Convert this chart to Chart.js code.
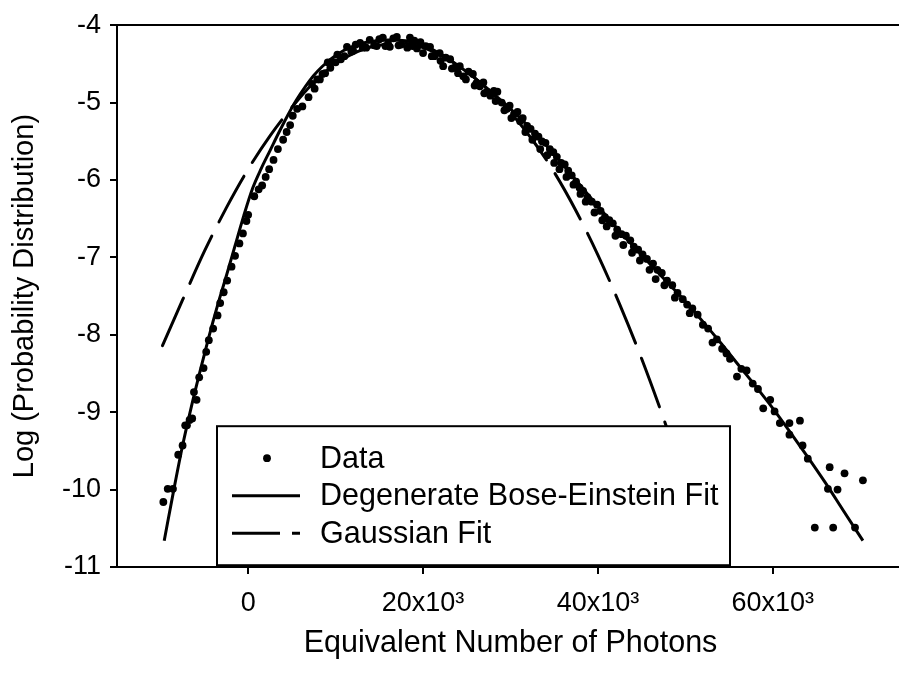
<!DOCTYPE html>
<html>
<head>
<meta charset="utf-8">
<title>Photon number distribution</title>
<script src="https://cdn.jsdelivr.net/npm/chart.js@4.4.0/dist/chart.umd.min.js"></script>
<style>
  html, body { margin: 0; padding: 0; background: #fff; overflow: hidden; }
  #wrap { width: 910px; height: 673px; }
</style>
</head>
<body>
<div id="wrap"><canvas id="photonChart" width="910" height="673"></canvas></div>
<script>
// photon numbers are kept in units of 10^3
const dataX = [
  -9.7, -9.2, -8.6, -8.0, -7.5, -7.2, -7.0, -6.7, -6.4, -6.2, -5.9, -5.6, -5.1, -4.8, -4.5, -4.0,
  -3.5, -3.2, -2.8, -2.4, -1.9, -1.5, -1.0, -0.6, -0.2, 0.0, 0.7, 1.2, 1.6, 2.0, 2.4, 2.9,
  3.4, 4.0, 4.4, 4.8, 5.1, 5.6, 6.2, 6.9, 7.3, 7.9, 8.5, 9.1, 9.6, 10.2, 10.6, 11.3,
  11.8, 12.3, 12.8, 13.1, 13.9, 14.4, 15.0, 15.4, 16.0, 16.2, 16.6, 17.0, 17.5, 18.2, 18.5, 19.0,
  19.7, 20.0, 20.3, 20.8, 21.3, 21.9, 22.3, 22.6, 23.1, 23.6, 24.2, 24.6, 25.2, 25.7, 26.1, 26.5,
  26.9, 27.3, 27.7, 28.1, 28.5, 29.0, 29.6, 29.9, 30.4, 30.8, 31.1, 31.4, 31.9, 32.3, 32.8, 33.2,
  33.6, 34.0, 34.5, 34.9, 35.3, 35.8, 36.2, 36.6, 37.0, 37.5, 37.9, 38.3, 38.8, 39.3, 39.9, 40.3,
  40.8, 41.3, 41.7, 42.2, 42.7, 43.2, 43.7, 44.1, 44.6, 45.1, 45.6, 46.3, 46.8, 47.3, 47.9, 48.5,
  49.1, 49.7, 50.2, 50.8, 51.4, 52.0, 52.6, 53.1, 53.6, 54.2, 54.7, 55.1, 55.9, 56.4, 57.0, 57.7,
  58.3, 58.9, 59.7, 60.2, 60.8, 61.9, 61.9, 63.1, 63.4, 64.0, 64.8, 66.3, 66.5, 66.9, 67.4, 68.2,
  69.4, 70.3,
  // lower edge of the band
  7.6, 8.2, 8.8, 9.4, 10.0, 11.0, 12.0, 13.5, 14.7, 15.7, 17.2, 18.8, 19.3, 21.0, 22.0, 23.3,
  24.0, 24.9, 25.9, 27.0, 28.3, 29.3, 30.1, 31.7, 32.5, 33.4, 34.2, 35.0, 35.6, 36.4, 37.2, 38.0,
  38.6, 39.6, 40.5, 41.0, 42.0, 42.9, 43.9, 44.8, 45.9, 46.6, 47.6, 48.8, 50.5
];
const dataY = [
  -10.16, -9.99, -9.99, -9.55, -9.43, -9.17, -9.17, -9.10, -9.08, -8.74, -8.84, -8.55, -8.43, -8.22, -8.07, -7.92,
  -7.75, -7.59, -7.45, -7.30, -7.12, -6.98, -6.82, -6.69, -6.53, -6.45, -6.21, -6.12, -6.07, -5.96, -5.86, -5.74,
  -5.60, -5.48, -5.38, -5.29, -5.17, -5.08, -5.05, -4.93, -4.76, -4.70, -4.63, -4.48, -4.47, -4.38, -4.44, -4.28,
  -4.34, -4.25, -4.23, -4.29, -4.19, -4.26, -4.18, -4.16, -4.24, -4.28, -4.17, -4.15, -4.25, -4.29, -4.16, -4.20,
  -4.22, -4.36, -4.27, -4.28, -4.40, -4.36, -4.53, -4.42, -4.44, -4.55, -4.53, -4.66, -4.60, -4.63, -4.75, -4.79,
  -4.74, -4.86, -4.91, -4.85, -4.86, -5.00, -5.08, -5.04, -5.15, -5.12, -5.24, -5.20, -5.30, -5.34, -5.40, -5.44,
  -5.50, -5.52, -5.60, -5.64, -5.70, -5.78, -5.80, -5.88, -5.94, -6.02, -6.10, -6.14, -6.22, -6.28, -6.32, -6.40,
  -6.48, -6.52, -6.56, -6.64, -6.70, -6.72, -6.78, -6.86, -6.90, -6.96, -7.02, -7.08, -7.16, -7.20, -7.30, -7.36,
  -7.46, -7.54, -7.61, -7.66, -7.74, -7.87, -7.92, -8.10, -8.06, -8.18, -8.24, -8.31, -8.54, -8.44, -8.46, -8.63,
  -8.70, -8.95, -8.84, -8.99, -9.14, -9.29, -9.14, -9.11, -9.43, -9.60, -10.49, -9.99, -9.71, -10.49, -10.00, -9.79,
  -10.49, -9.88,
  -4.82, -4.70, -4.62, -4.55, -4.48, -4.40, -4.33, -4.29, -4.27, -4.27, -4.26, -4.27, -4.30, -4.40, -4.46, -4.56,
  -4.62, -4.70, -4.78, -4.88, -4.98, -5.10, -5.20, -5.38, -5.48, -5.60, -5.68, -5.78, -5.86, -5.96, -6.06, -6.18,
  -6.28, -6.42, -6.52, -6.60, -6.72, -6.84, -6.94, -7.04, -7.16, -7.28, -7.36, -7.52, -7.72
];

// degenerate Bose-Einstein fit
const boseX = [
  -9.6, -8.5, -7.5, -6.5, -5.5, -4.5, -3.5, -2.5, -1.5, -0.5, 0.5, 1.5, 2.5, 3.5, 4.5, 5.5,
  6.5, 7.5, 8.5, 10, 12, 14, 16, 18, 20, 22, 24, 26, 28, 30, 32, 34,
  36, 38, 40, 42, 44, 46, 48, 50, 52, 54, 56, 58, 60, 62, 64, 66, 68, 70.3
];
const boseY = [
  -10.66, -10.00, -9.43, -8.93, -8.47, -8.03, -7.62, -7.24, -6.85, -6.46, -6.11, -5.85, -5.62, -5.39, -5.17, -4.97,
  -4.80, -4.65, -4.53, -4.39, -4.27, -4.21, -4.19, -4.20, -4.26, -4.37, -4.52, -4.69, -4.88, -5.08, -5.30, -5.54,
  -5.80, -6.07, -6.34, -6.60, -6.85, -7.09, -7.33, -7.57, -7.83, -8.10, -8.38, -8.66, -8.95, -9.26, -9.58, -9.91, -10.26, -10.66
];

// gaussian fit
const gaussX = [
  -9.8, -7.5, -5, -2.5, 0, 2.5, 5, 7.5, 10, 12.5, 15, 17.5, 20, 22.5, 25, 27.5,
  30, 32.5, 35, 37.5, 40, 42.5, 45, 47.5, 50
];
const gaussY = [
  -8.14, -7.55, -6.92, -6.36, -5.86, -5.43, -5.06, -4.74, -4.50, -4.34, -4.26, -4.23, -4.29, -4.42, -4.60, -4.84,
  -5.13, -5.48, -5.90, -6.40, -6.97, -7.61, -8.31, -9.08, -9.91
];

const xTickValues = [0, 20, 40, 60];
const xTickLabels = ['0', '20x10³', '40x10³', '60x10³'];
const yTickValues = [-4, -5, -6, -7, -8, -9, -10, -11];
const seriesNames = ['Data', 'Degenerate Bose-Einstein Fit', 'Gaussian Fit'];

const pairs = (xs, ys) => xs.map((x, i) => ({ x: x, y: ys[i] }));

const FONT = "'Liberation Sans', Arial, Helvetica, sans-serif";
Chart.defaults.font.family = FONT;
Chart.defaults.color = '#000';

// boxed legend sitting inside the plot, painted over the curves
const boxLegend = {
  id: 'boxLegend',
  afterDatasetsDraw(chart) {
    const { ctx, chartArea } = chart;
    const left = chartArea.left + 100;
    const top = chartArea.top + 401;
    const w = 513, h = 139;
    ctx.save();
    ctx.fillStyle = '#fff';
    ctx.fillRect(left, top, w, h);
    ctx.lineWidth = 2;
    ctx.strokeStyle = '#000';
    ctx.strokeRect(left, top, w, h);
    ctx.font = '30.5px ' + FONT;
    ctx.textBaseline = 'middle';
    ctx.fillStyle = '#000';
    chart.data.datasets.forEach((ds, i) => {
      const y = top + 32 + i * 37.5;
      const x0 = left + 15, x1 = left + 83;
      if (ds.showLine) {
        ctx.beginPath();
        ctx.lineWidth = ds.borderWidth;
        ctx.setLineDash(ds.borderDash.length ? [48, 12] : []);
        ctx.moveTo(x0, y);
        ctx.lineTo(x1, y);
        ctx.stroke();
        ctx.setLineDash([]);
      } else {
        ctx.beginPath();
        ctx.arc((x0 + x1) / 2 + 1, y, ds.pointRadius, 0, Math.PI * 2);
        ctx.fill();
      }
      ctx.fillText(ds.label, left + 103, y + 1);
    });
    ctx.restore();
  }
};

new Chart(document.getElementById('photonChart'), {
  type: 'scatter',
  data: {
    datasets: [
      {
        label: seriesNames[0],
        data: pairs(dataX, dataY),
        pointRadius: 3.9,
        pointBackgroundColor: '#000',
        pointBorderWidth: 0,
        borderDash: [],
        showLine: false
      },
      {
        label: seriesNames[1],
        data: pairs(boseX, boseY),
        showLine: true,
        borderColor: '#000',
        borderWidth: 3,
        borderDash: [],
        pointRadius: 0,
        cubicInterpolationMode: 'monotone'
      },
      {
        label: seriesNames[2],
        data: pairs(gaussX, gaussY),
        showLine: true,
        borderColor: '#000',
        borderWidth: 3,
        borderDash: [52, 16],
        borderCapStyle: 'round',
        pointRadius: 0,
        cubicInterpolationMode: 'monotone'
      }
    ]
  },
  options: {
    responsive: false,
    animation: false,
    events: [],
    layout: { padding: { top: 15, right: 6, left: 0, bottom: 0 } },
    plugins: { legend: { display: false }, tooltip: { enabled: false } },
    scales: {
      x: {
        type: 'linear',
        position: 'bottom',
        min: -15,
        max: 75,
        afterBuildTicks: s => { s.ticks = xTickValues.map(v => ({ value: v })); },
        afterFit: s => { s.height = 106; },
        ticks: {
          autoSkip: false,
          maxRotation: 0,
          padding: 13,
          font: { size: 27 },
          callback: (v, i) => xTickLabels[i]
        },
        grid: { display: true, drawOnChartArea: false, drawTicks: true, tickLength: 7, color: '#000', lineWidth: 2 },
        border: { display: true, color: '#000', width: 2 },
        title: { display: true, text: 'Equivalent Number of Photons', font: { size: 30.5 }, padding: { top: 0, bottom: 11 } }
      },
      xTop: {
        type: 'linear',
        position: 'top',
        min: -15,
        max: 75,
        afterFit: s => { s.height = 0; },
        ticks: { display: false },
        grid: { display: false, drawTicks: false },
        border: { display: true, color: '#000', width: 2 }
      },
      y: {
        type: 'linear',
        min: -11,
        max: -4,
        afterBuildTicks: s => { s.ticks = yTickValues.map(v => ({ value: v })); },
        afterFit: s => { s.width = 117; },
        ticks: {
          padding: 9,
          font: { size: 27 },
          callback: v => String(v)
        },
        grid: { display: true, drawOnChartArea: false, drawTicks: true, tickLength: 7, color: '#000', lineWidth: 2 },
        border: { display: true, color: '#000', width: 2 },
        title: { display: true, text: 'Log (Probability Distribution)', font: { size: 29 }, padding: { top: 8, bottom: 0 } }
      }
    }
  },
  plugins: [boxLegend]
});
</script>
</body>
</html>
